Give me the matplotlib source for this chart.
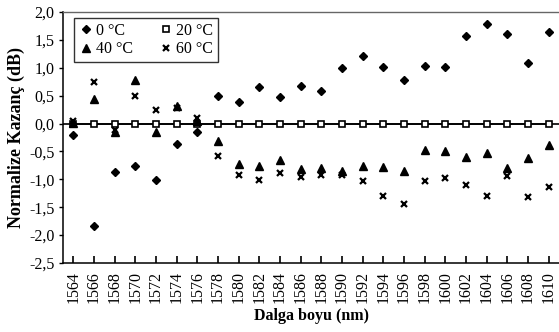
import matplotlib as mpl
import matplotlib.pyplot as plt
import numpy as np
from matplotlib.lines import Line2D
from matplotlib.ticker import FuncFormatter

wavelengths = [1564, 1566, 1568, 1570, 1572, 1574, 1576, 1578, 1580, 1582, 1584, 1586,
               1588, 1590, 1592, 1594, 1596, 1598, 1600, 1602, 1604, 1606, 1608, 1610]
gain_0c = [-0.20, -1.83, -0.86, -0.76, -1.02, -0.36, -0.15, 0.49, 0.38, 0.65, 0.48, 0.67,
           0.59, 0.99, 1.22, 1.01, 0.78, 1.04, 1.01, 1.57, 1.79, 1.61, 1.08, 1.65]
gain_20c = [0.0] * 24
gain_40c = [0.01, 0.44, -0.16, 0.78, -0.16, 0.31, 0.04, -0.31, -0.73, -0.76, -0.65, -0.82,
            -0.79, -0.85, -0.76, -0.77, -0.85, -0.47, -0.49, -0.60, -0.52, -0.79, -0.61, -0.39]
gain_60c = [0.05, 0.75, -0.12, 0.49, 0.24, 0.28, 0.10, -0.59, -0.93, -1.01, -0.89, -0.96,
            -0.93, -0.93, -1.03, -1.29, -1.45, -1.03, -0.97, -1.11, -1.29, -0.94, -1.31, -1.13]

mpl.rcParams.update({
    "font.family": "Liberation Serif",
    "font.size": 11.5,
})

fig = plt.figure(figsize=(5.59, 3.32), dpi=100)
ax = fig.add_axes([63 / 559, 1 - 263 / 332, 1 - 63 / 559, (263 - 12) / 332])

x = np.arange(len(wavelengths))
ax.axhline(0, color="black", linewidth=1.2, zorder=1)
ax.plot(x, gain_0c, linestyle="none", marker="D", markersize=3.9, color="black", zorder=3)
ax.plot(x, gain_20c, linestyle="-", linewidth=1.2, marker="s", markersize=4.6, color="black",
        markerfacecolor="white", markeredgewidth=1.2, zorder=2)
ax.plot(x, gain_40c, linestyle="none", marker="^", markersize=5.2, color="black", zorder=3)
ax.plot(x, gain_60c, linestyle="none", marker="x", markersize=4.2, markeredgewidth=1.6,
        color="black", zorder=3)

ax.set_xlim(-0.5, len(wavelengths) - 0.5)
ax.set_ylim(-2.5, 2.0)
ax.set_xticks(x)
ax.set_xticklabels([str(w) for w in wavelengths], rotation=90)
ax.set_yticks(np.arange(-2.5, 2.01, 0.5))
ax.yaxis.set_major_formatter(FuncFormatter(lambda v, _: f"{v:.1f}".replace(".", ",")))
ax.tick_params(axis="x", direction="in", length=5, width=1.2, pad=6)
ax.tick_params(axis="y", direction="out", length=3, width=1.0, pad=3)

for side in ["left", "bottom"]:
    ax.spines[side].set_color("black")
    ax.spines[side].set_linewidth(1.1)
ax.spines["right"].set_visible(False)
ax.spines["top"].set_color("#666666")
ax.spines["top"].set_linewidth(1.0)

ax.set_xlabel("Dalga boyu (nm)", fontweight="bold", fontsize=11.5, labelpad=3)
ax.set_ylabel("Normalize Kazanç (dB)", fontweight="bold", fontsize=13, labelpad=3)

# legend proxies: markers only, no connecting line
handles = [
    Line2D([], [], linestyle="none", marker="D", markersize=3.9, color="black", label="0 °C"),
    Line2D([], [], linestyle="none", marker="^", markersize=5.2, color="black", label="40 °C"),
    Line2D([], [], linestyle="none", marker="s", markersize=4.6, color="black",
           markerfacecolor="white", markeredgewidth=1.2, label="20 °C"),
    Line2D([], [], linestyle="none", marker="x", markersize=4.2, markeredgewidth=1.6,
           color="black", label="60 °C"),
]
leg = ax.legend(
    handles=handles,
    ncol=2,
    loc="upper left",
    bbox_to_anchor=(74 / 559, 1 - 18 / 332),
    bbox_transform=fig.transFigure,
    borderaxespad=0,
    frameon=True,
    fancybox=False,
    handlelength=0.9,
    handletextpad=0.2,
    columnspacing=1.6,
    labelspacing=0.15,
    borderpad=0.3,
    fontsize=11.5,
)
leg.get_frame().set_edgecolor("black")
leg.get_frame().set_linewidth(1.0)

fig.savefig("out.png", dpi=100)
